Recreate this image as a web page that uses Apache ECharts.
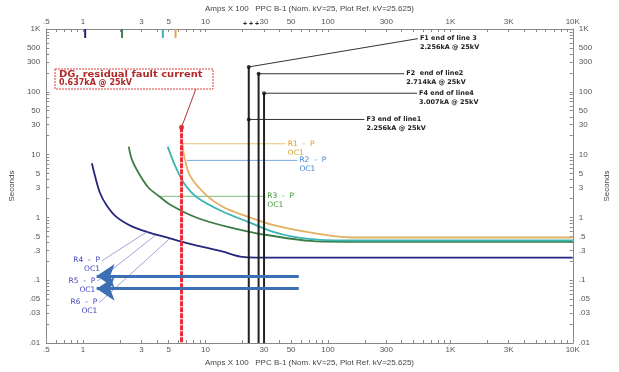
<!DOCTYPE html>
<html>
<head>
<meta charset="utf-8">
<script src="https://cdn.jsdelivr.net/npm/echarts@6/dist/echarts.min.js"></script>
<style>
  html, body { margin: 0; padding: 0; background: #fff; }
  #main { width: 619px; height: 372px; }
</style>
</head>
<body>
<div id="main"></div>
<script>
// tick labels
const xTicks = [0.5, 1, 3, 5, 10, 30, 50, 100, 300, 1000, 3000, 10000];
const xTickLabels = ['.5', '1', '3', '5', '10', '30', '50', '100', '300', '1K', '3K', '10K'];
const yTicks = [0.01, 0.03, 0.05, 0.1, 0.3, 0.5, 1, 3, 5, 10, 30, 50, 100, 300, 500, 1000];
const yTickLabels = ['.01', '.03', '.05', '.1', '.3', '.5', '1', '3', '5', '10', '30', '50', '100', '300', '500', '1K'];

// relay curves, [amps x100, seconds]
const r1Curve = [[6.46, 16], [6.7, 9.4], [7.48, 4.6], [10.2, 2.25], [13.9, 1.47], [22, 1.03], [34.7, 0.77], [63.4, 0.6], [116, 0.5], [158, 0.48], [400, 0.48], [10000, 0.48]];
const r2Curve = [[4.91, 13.4], [5.58, 7.0], [6.7, 3.46], [8.49, 2.1], [13.9, 1.23], [22, 0.86], [34.7, 0.6], [52.8, 0.49], [86.5, 0.44], [158, 0.43], [400, 0.43], [10000, 0.43]];
const r3Curve = [[2.36, 13.4], [2.5, 8.4], [2.84, 5.1], [3.41, 3.0], [4.09, 2.25], [5.2, 1.58], [8.49, 0.99], [15.5, 0.7], [28.9, 0.54], [76, 0.42], [158, 0.41], [400, 0.41], [10000, 0.41]];
const r4Curve = [[1.18, 7.3], [1.25, 4.6], [1.37, 2.5], [1.55, 1.58], [1.86, 1.03], [2.5, 0.72], [3.41, 0.58], [4.65, 0.49], [7.48, 0.38], [13.9, 0.285], [20, 0.235], [26, 0.23], [60, 0.23], [10000, 0.23]];

// relay label leaders
const r1Leader = [[6.46, 14.9], [44.8, 14.9]];
const r2Leader = [[7.1, 8.1], [55.8, 8.1]];
const r3Leader = [[4.09, 2.17], [30.5, 2.17]];
const r4Leader = [[3.23, 0.57], [1.44, 0.207]];
const r5Leader = [[3.94, 0.53], [1.32, 0.098]];
const r6Leader = [[5.09, 0.46], [1.37, 0.045]];

// DG residual fault current
const dgAmps = 6.37;
const dgDot = [6.37, 27.3];
const dgLeaderEnd = [8.5, 122];

// fault currents
const faultNames = ['F1 end of line 3', 'F2  end of line2', 'F4 end of line4', 'F3 end of line1'];
const faultText = ['2.256kA @ 25kV', '2.714kA @ 25kV', '3.007kA @ 25kV', '2.256kA @ 25kV'];
const faultAmps = [22.56, 27.14, 30.07, 22.56];
const faultDotSec = [249, 194, 95, 36.3];
const faultLabelAt = [[538, 700], [417, 194], [530, 95], [197, 36.3]];

// pickup markers on top axis
const pickupAmps = [1.04, 2.08, 4.48, 5.69];
const pickupColors = ['#23237a', '#3f7f4f', '#3fb0b0', '#e0a84a'];

// blue arrows
const arrowSec = [0.117, 0.0736];
const arrowFrom = 57.8;
const arrowTo = 1.29;

const font = 'Liberation Sans';
const wideFont = 'DejaVu Sans';

function decadeTicks(min, max) {
  const out = [];
  for (let e = -3; e <= 5; e++) {
    for (let m = 1; m <= 9; m++) {
      const v = +(m * Math.pow(10, e)).toPrecision(6);
      if (v >= min - 1e-9 && v <= max + 1e-9) out.push(v);
    }
  }
  return out;
}

function labelMap(ticks, labels) {
  return (v) => {
    for (let i = 0; i < ticks.length; i++) {
      if (Math.abs(v - ticks[i]) / ticks[i] < 1e-6) return labels[i];
    }
    return '';
  };
}

function xAxisFor(pos) {
  return {
    type: 'log', logBase: 10, min: 0.5, max: 10000, position: pos,
    name: 'Amps X 100   PPC B-1 (Nom. kV=25, Plot Ref. kV=25.625)',
    nameLocation: 'middle', nameGap: 12,
    nameTextStyle: { fontFamily: font, fontSize: 8, color: '#444' },
    axisLine: { lineStyle: { color: '#888', width: 1 } },
    axisTick: { inside: true, length: 3, customValues: decadeTicks(0.5, 10000), lineStyle: { color: '#888' } },
    axisLabel: { customValues: xTicks, formatter: labelMap(xTicks, xTickLabels), fontFamily: font, fontSize: 8, color: '#555', margin: 3 },
    splitLine: { show: false }
  };
}

function yAxisFor(pos, gap) {
  return {
    type: 'log', logBase: 10, min: 0.01, max: 1000, position: pos,
    name: 'Seconds', nameLocation: 'middle', nameGap: gap, nameRotate: 90,
    nameTextStyle: { fontFamily: font, fontSize: 8, color: '#444' },
    axisLine: { lineStyle: { color: '#888', width: 1 } },
    axisTick: { inside: true, length: 3, customValues: decadeTicks(0.01, 1000), lineStyle: { color: '#888' } },
    axisLabel: { customValues: yTicks, formatter: labelMap(yTicks, yTickLabels), fontFamily: font, fontSize: 8, color: '#555', margin: 6 },
    splitLine: { show: false }
  };
}

function curve(data, color) {
  return {
    type: 'line', data: data, symbol: 'none', smooth: 0.3, silent: true,
    lineStyle: { color: color, width: 1.8 }, z: 3
  };
}

function leader(pts, color, text, side, textColor) {
  const last = pts.length - 1;
  return {
    type: 'line', silent: true, symbol: 'circle', symbolSize: 1, showSymbol: true,
    itemStyle: { color: color },
    lineStyle: { color: color, width: 1 },
    data: pts.map((p, i) => i === last ? {
      value: p,
      label: {
        show: true, position: side, distance: 2, offset: [0, 4.5],
        formatter: text, fontFamily: wideFont, fontSize: 7.5, lineHeight: 9,
        color: textColor, align: side === 'left' ? 'right' : 'left'
      }
    } : p),
    z: 2
  };
}

const series = [
  curve(r4Curve, '#26267e'),
  curve(r3Curve, '#3b7d45'),
  curve(r2Curve, '#3cb4b4'),
  curve(r1Curve, '#e2b060'),
  leader(r1Leader, '#e8c27a', 'R1  -  P\nOC1', 'right', '#d8a02a'),
  leader(r2Leader, '#7aa6e0', 'R2  -  P\nOC1', 'right', '#3a86d6'),
  leader(r3Leader, '#7dbb7d', 'R3  -  P\nOC1', 'right', '#3a9a3a'),
  leader(r4Leader, '#a3a3dc', 'R4  -  P\nOC1', 'left', '#4646c0'),
  leader(r5Leader, '#a3a3dc', 'R5  -  P\nOC1', 'left', '#4646c0'),
  leader(r6Leader, '#a3a3dc', 'R6  -  P\nOC1', 'left', '#4646c0'),
  {
    type: 'line', silent: true, symbol: 'none',
    data: [[dgAmps, dgDot[1]], [dgAmps, 0.01]],
    lineStyle: { color: '#ee2a36', width: 3, type: [5, 1] }, z: 4
  },
  {
    type: 'line', silent: true, symbol: 'none',
    data: [dgDot, dgLeaderEnd],
    lineStyle: { color: '#b03030', width: 1 }, z: 4
  },
  {
    type: 'scatter', silent: true, symbolSize: 5,
    data: [dgDot], itemStyle: { color: '#e01a22' }, z: 5
  }
];

faultAmps.forEach((a, i) => {
  if (i !== 3) {
    series.push({
      type: 'line', silent: true, symbol: 'none',
      data: [[a, faultDotSec[i]], [a, 0.01]],
      lineStyle: { color: '#222', width: 2 }, z: 4
    });
  }
  const s = leader([[a, faultDotSec[i]], faultLabelAt[i]], '#333',
    '{a|' + faultNames[i] + '}\n{b|' + faultText[i] + '}', 'right', '#222');
  s.data[1].label.rich = {
    a: { fontFamily: wideFont, fontSize: 6.5, fontWeight: 'bold', lineHeight: 9, color: '#222' },
    b: { fontFamily: wideFont, fontSize: 6.5, fontWeight: 'bold', lineHeight: 9, color: '#222' }
  };
  series.push(s);
});

series.push({
  type: 'scatter', silent: true, symbolSize: 4,
  data: faultAmps.map((a, i) => [a, faultDotSec[i]]),
  itemStyle: { color: '#111' }, z: 5
});

pickupAmps.forEach((a, i) => {
  series.push({
    type: 'line', silent: true, symbol: 'none',
    data: [[a, 1000], [a, 720]],
    lineStyle: { color: pickupColors[i], width: 2 }, z: 5
  });
});

series.push({
  type: 'lines', coordinateSystem: 'cartesian2d', silent: true,
  symbol: ['none', 'arrow'], symbolSize: 18,
  lineStyle: { color: '#3d6fb5', width: 3, opacity: 1, curveness: 0 },
  data: arrowSec.map(s => ({ coords: [[arrowFrom, s], [arrowTo, s]] })),
  z: 6
});

const chart = echarts.init(document.getElementById('main'));
chart.setOption({
  animation: false,
  backgroundColor: '#fff',
  grid: { left: 45, right: 32, top: 29, bottom: 20 },
  xAxis: [xAxisFor('bottom'), xAxisFor('top')],
  yAxis: [yAxisFor('left', 27), yAxisFor('right', 23)],
  graphic: [
    {
      type: 'rect', z: 10,
      shape: { x: 55, y: 69, width: 158, height: 20 },
      style: { fill: '#fff', stroke: '#e03a3a', lineWidth: 1, lineDash: [2, 1] }
    },
    {
      type: 'text', z: 11, x: 59, y: 70, scaleX: 1.17,
      style: { text: 'DG, residual fault current', fill: '#b02828', font: 'bold 8.5px "DejaVu Sans"' }
    },
    {
      type: 'text', z: 11, x: 59, y: 79,
      style: { text: '0.637kA @ 25kV', fill: '#b02828', font: 'bold 8px "DejaVu Sans"' }
    },
    {
      type: 'text', z: 11, left: 243, top: 21,
      style: { text: '+ + +', fill: '#222', font: 'bold 7px "Liberation Sans"' }
    }
  ],
  series: series
});
</script>
</body>
</html>
